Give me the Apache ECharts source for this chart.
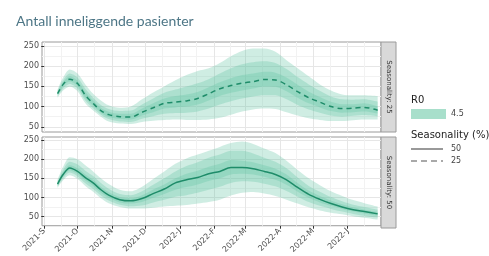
<!DOCTYPE html>
<html>
<head>
<meta charset="utf-8">
<script src="https://cdn.jsdelivr.net/npm/echarts@6/dist/echarts.min.js"></script>
<style>html,body{margin:0;padding:0;background:#fff;}#c{width:489px;height:256px;}</style>
</head>
<body>
<div id="c"></div>
<script>
// ---- data ----
const dates = ['2021-09-13','2021-09-18','2021-09-24','2021-10-01','2021-10-08','2021-10-15','2021-10-22','2021-10-29','2021-11-08','2021-11-18','2021-11-28','2021-12-08','2021-12-18','2021-12-28','2022-01-07','2022-01-17','2022-01-27','2022-02-06','2022-02-16','2022-02-26','2022-03-08','2022-03-18','2022-03-28','2022-04-07','2022-04-17','2022-04-27','2022-05-07','2022-05-17','2022-05-27','2022-06-06','2022-06-16','2022-06-28'];

// Seasonality 25 (top panel)
const med25 = [132,155,168,157,128,108,90,80,75,74,86,97,108,111,114,120,132,144,152,158,162,167,166,154,137,122,111,100,95,96,98,91];
const lo1_25 = [122,140,150,138,108,90,75,63,58,57,62,65,67,68,67,67,68,72,80,88,93,95,94,86,78,71,67,64,64,66,68,68];
const lo2_25 = [126,145,156,145,115,96,80,69,63,62,70,76,82,84,85,88,95,105,113,120,125,128,128,118,104,93,85,78,75,77,79,76];
const lo3_25 = [129,150,162,151,121,102,85,74,69,68,78,86,95,98,100,105,115,126,134,140,145,150,149,138,122,108,98,89,85,86,88,83];
const hi3_25 = [135,160,175,164,136,115,97,87,82,82,95,108,120,126,130,136,148,160,170,178,182,186,184,172,154,137,124,112,106,106,108,100];
const hi2_25 = [138,165,182,172,144,122,104,94,89,90,105,120,134,142,150,158,168,182,195,205,210,212,208,193,173,155,139,125,118,117,118,112];
const hi1_25 = [142,172,192,182,155,132,115,103,97,100,118,135,150,165,178,188,195,208,225,238,244,244,236,215,195,175,155,140,130,128,128,126];

// Seasonality 50 (bottom panel)
const med50 = [135,160,177,168,152,138,120,106,94,91,97,110,122,138,146,152,162,168,178,178,175,168,160,146,126,108,95,84,75,68,63,57];
const lo1_50 = [125,145,158,148,130,115,98,85,75,71,71,73,76,78,80,84,88,94,105,112,114,110,104,94,84,74,66,60,56,51,47,42];
const lo2_50 = [128,150,165,155,137,122,105,92,81,77,79,87,94,102,106,112,120,128,138,142,141,136,129,117,102,88,78,70,63,57,52,47];
const lo3_50 = [131,155,171,161,144,130,112,99,87,84,88,99,109,120,127,134,143,150,160,162,160,154,146,133,115,99,87,78,70,63,58,52];
const hi3_50 = [139,166,184,176,160,146,128,114,101,98,106,121,134,150,162,170,180,188,198,196,192,184,175,160,138,118,104,92,82,74,68,62];
const hi2_50 = [142,172,193,186,170,156,138,123,109,106,116,133,150,168,182,192,204,212,222,222,215,204,193,176,152,130,115,101,90,81,75,68];
const hi1_50 = [146,180,205,200,184,168,150,135,120,116,128,148,168,188,202,212,222,232,242,246,240,228,216,196,172,150,132,116,104,93,85,76];

const yTicks = [50,100,150,200,250];
const yMinor = [75,125,175,225];
const monthTicks = ['2021-09-01','2021-10-01','2021-11-01','2021-12-01','2022-01-01','2022-02-01','2022-03-01','2022-04-01','2022-05-01','2022-06-01'];
const monthMid = ['2021-09-16','2021-10-16','2021-11-16','2021-12-16','2022-01-16','2022-02-15','2022-03-16','2022-04-16','2022-05-16','2022-06-16'];
const monthLetters = ['J','F','M','A','M','J','J','A','S','O','N','D'];
const panelNames = ['Seasonality: 25','Seasonality: 50'];

// ---- chart ----
const DAY = 86400000;
const origin = Date.UTC(2021,8,1);
function dnum(s){ const p=s.split('-').map(Number); return Math.round((Date.UTC(p[0],p[1]-1,p[2])-origin)/DAY); }
function dlabel(v){ const d=new Date(origin+Math.round(v)*DAY); return d.getUTCFullYear()+'-'+monthLetters[d.getUTCMonth()]; }
const xMin = dnum('2021-08-30'), xMax = dnum('2022-07-01');
const xs = dates.map(dnum);
const FILL = '#5fc4a2', LINE = '#1e8c69', GRID='#e6e6e6', GRIDM='#f2f2f2', AX='#4d4d4d';
const grids = [
  {left:42, top:42, width:339, height:90, show:true, borderColor:'#9a9a9a', borderWidth:1, backgroundColor:'#fff'},
  {left:42, top:137, width:339, height:91, show:true, borderColor:'#9a9a9a', borderWidth:1, backgroundColor:'#fff'}
];
const yRanges = [[37,260],[26,258]];
const xAxes = [], yAxes = [], series = [];
[0,1].forEach(g=>{
  xAxes.push({type:'value', gridIndex:g, min:xMin, max:xMax,
    axisLine:{show:false},
    axisTick:{show:g===1, length:3, lineStyle:{color:'#333'}, customValues: monthTicks.map(dnum)},
    axisLabel:{show:g===1, customValues: monthTicks.map(dnum), rotate:45, fontSize:8, color:AX, margin:4,
      fontFamily:'DejaVu Sans', formatter:dlabel},
    splitLine:{show:true, lineStyle:{color:GRID, width:1}}
  });
  xAxes.push({type:'value', gridIndex:g, min:xMin, max:xMax, position:'top',
    axisLine:{show:false}, axisTick:{show:false, customValues: monthMid.map(dnum)},
    axisLabel:{show:false, customValues: monthMid.map(dnum)},
    splitLine:{show:true, lineStyle:{color:GRIDM, width:1}}
  });
  yAxes.push({type:'value', gridIndex:g, min:yRanges[g][0], max:yRanges[g][1],
    axisLine:{show:false},
    axisTick:{show:true, length:3, lineStyle:{color:'#333'}, customValues:yTicks},
    axisLabel:{customValues:yTicks, fontSize:8, color:AX, margin:3, fontFamily:'DejaVu Sans'},
    splitLine:{show:true, lineStyle:{color:GRID, width:1}}
  });
  yAxes.push({type:'value', gridIndex:g, min:yRanges[g][0], max:yRanges[g][1], position:'right',
    axisLine:{show:false}, axisTick:{show:false, customValues:yMinor},
    axisLabel:{show:false, customValues:yMinor},
    splitLine:{show:true, lineStyle:{color:GRIDM, width:1}}
  });
});

const panels = [
  {med:med25, bands:[[lo1_25,hi1_25],[lo2_25,hi2_25],[lo3_25,hi3_25]], dash:[5,4]},
  {med:med50, bands:[[lo1_50,hi1_50],[lo2_50,hi2_50],[lo3_50,hi3_50]], dash:'solid'}
];
// data items are [y, x] with encode so that the stacked dimension is the y value
panels.forEach((p,g)=>{
  p.bands.forEach((b,k)=>{
    const stack = 'p'+g+'b'+k;
    series.push({type:'line', xAxisIndex:g*2, yAxisIndex:g*2, stack, silent:true, symbol:'none', smooth:0.3,
      encode:{x:1, y:0}, lineStyle:{opacity:0}, data: xs.map((x,i)=>[b[0][i], x])});
    series.push({type:'line', xAxisIndex:g*2, yAxisIndex:g*2, stack, silent:true, symbol:'none', smooth:0.3,
      encode:{x:1, y:0}, lineStyle:{opacity:0}, areaStyle:{color:FILL, opacity:0.3},
      data: xs.map((x,i)=>[b[1][i]-b[0][i], x])});
  });
  series.push({type:'line', xAxisIndex:g*2, yAxisIndex:g*2, silent:true, symbol:'none', smooth:0.3,
    lineStyle:{color:LINE, width:1.5, type:p.dash}, data: xs.map((x,i)=>[x,p.med[i]])});
});

const graphics = [];
grids.forEach((gr,g)=>{
  graphics.push({type:'rect', shape:{x:381, y:gr.top, width:15, height:gr.height},
    style:{fill:'#d9d9d9', stroke:'#9a9a9a', lineWidth:1}});
  graphics.push({type:'text', x:388.5, y:gr.top+gr.height/2, rotation:-Math.PI/2,
    style:{text:panelNames[g], align:'center', verticalAlign:'middle', font:'7px "DejaVu Sans"', fill:'#333'}});
});
// legend
graphics.push({type:'text', x:411, y:100, style:{text:'R0', font:'10px "DejaVu Sans"', fill:'#222', verticalAlign:'middle'}});
graphics.push({type:'rect', shape:{x:411, y:109, width:35, height:10}, style:{fill:'#a8dfcb'}});
graphics.push({type:'text', x:451, y:114, style:{text:'4.5', font:'8px "DejaVu Sans"', fill:'#444', verticalAlign:'middle'}});
graphics.push({type:'text', x:411, y:135, style:{text:'Seasonality (%)', font:'10px "DejaVu Sans"', fill:'#222', verticalAlign:'middle'}});
graphics.push({type:'line', shape:{x1:411, y1:149, x2:443, y2:149}, style:{stroke:'#555', lineWidth:1.2}});
graphics.push({type:'text', x:451, y:148.5, style:{text:'50', font:'8px "DejaVu Sans"', fill:'#444', verticalAlign:'middle'}});
graphics.push({type:'line', shape:{x1:411, y1:161, x2:443, y2:161}, style:{stroke:'#555', lineWidth:1.2, lineDash:[6,4]}});
graphics.push({type:'text', x:451, y:160.5, style:{text:'25', font:'8px "DejaVu Sans"', fill:'#444', verticalAlign:'middle'}});

const chart = echarts.init(document.getElementById('c'), null, {renderer:'canvas'});
chart.setOption({
  animation:false,
  backgroundColor:'#fff',
  title:{text:'Antall inneliggende pasienter', left:11, top:9,
    textStyle:{fontSize:14, fontWeight:'normal', color:'#4d7686', fontFamily:'Lato'}},
  grid:grids, xAxis:xAxes, yAxis:yAxes, series, graphic:graphics
});
</script>
</body>
</html>
